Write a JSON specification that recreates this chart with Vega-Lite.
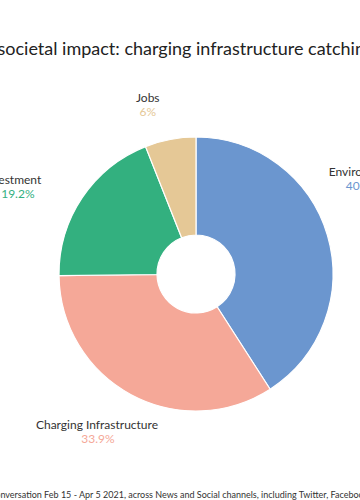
{
  "$schema": "https://vega.github.io/schema/vega-lite/v6.json",
  "autosize": "pad",
  "padding": {"left": -124, "top": 34, "right": 0, "bottom": 0},
  "background": "white",
  "title": {
    "text": "EV societal impact: charging infrastructure catching up",
    "anchor": "middle",
    "font": "Lato",
    "fontSize": 18,
    "fontWeight": "normal",
    "color": "#222222",
    "offset": -25,
    "dx": -11
  },
  "config": {"view": {"stroke": null}, "text": {"font": "Lato", "fontSize": 12}},
  "vconcat": [
    {
      "width": 640,
      "height": 380,
      "title": {
        "text": "Source: Conversation Feb 15 - Apr 5 2021, across News and Social channels, including Twitter, Facebook and Instagram",
        "orient": "bottom",
        "anchor": "middle",
        "font": "Lato",
        "fontSize": 9,
        "fontWeight": "normal",
        "color": "#333333",
        "offset": 20,
        "dx": -4
      },
      "data": {
        "values": [
          {"category": "Environment", "share": 0.409},
          {"category": "Charging Infrastructure", "share": 0.339},
          {"category": "Investment", "share": 0.192},
          {"category": "Jobs", "share": 0.06}
        ]
      },
      "encoding": {
        "theta": {"field": "share", "type": "quantitative", "stack": true},
        "order": {"field": "share", "sort": "descending"},
        "color": {
          "field": "category",
          "type": "nominal",
          "legend": null,
          "scale": {
            "domain": ["Environment", "Charging Infrastructure", "Investment", "Jobs"],
            "range": ["#6b96cf", "#f5a898", "#33b07f", "#e5c896"]
          }
        }
      },
      "layer": [
        {
          "mark": {"type": "arc", "outerRadius": 137, "innerRadius": 39, "stroke": "white", "strokeWidth": 1.2}
        },
        {
          "mark": {"type": "text", "radius": 188, "dx": -14, "dy": -49},
          "encoding": {
            "text": {"condition": {"test": "datum.category === 'Environment'", "field": "category"}, "value": ""},
            "color": {"value": "#333333"}
          }
        },
        {
          "mark": {"type": "text", "radius": 188, "dx": -14, "dy": -35},
          "encoding": {
            "text": {"condition": {"test": "datum.category === 'Environment'", "field": "share", "type": "quantitative", "format": ".1~%"}, "value": ""}
          }
        },
        {
          "mark": {"type": "text", "radius": 188, "dx": -28, "dy": 11},
          "encoding": {
            "text": {"condition": {"test": "datum.category === 'Investment'", "field": "category"}, "value": ""},
            "color": {"value": "#333333"}
          }
        },
        {
          "mark": {"type": "text", "radius": 188, "dx": -22, "dy": 25},
          "encoding": {
            "text": {"condition": {"test": "datum.category === 'Investment'", "field": "share", "type": "quantitative", "format": ".1~%"}, "value": ""}
          }
        },
        {
          "mark": {"type": "text", "radius": 188, "dx": -13, "dy": 9},
          "encoding": {
            "text": {"condition": {"test": "datum.category === 'Jobs'", "field": "category"}, "value": ""},
            "color": {"value": "#333333"}
          }
        },
        {
          "mark": {"type": "text", "radius": 188, "dx": -13, "dy": 23},
          "encoding": {
            "text": {"condition": {"test": "datum.category === 'Jobs'", "field": "share", "type": "quantitative", "format": ".1~%"}, "value": ""}
          }
        },
        {
          "mark": {"type": "text", "radius": 188, "dx": -10, "dy": -15},
          "encoding": {
            "text": {"condition": {"test": "datum.category === 'Charging Infrastructure'", "field": "category"}, "value": ""},
            "color": {"value": "#333333"}
          }
        },
        {
          "mark": {"type": "text", "radius": 188, "dx": -9, "dy": -1},
          "encoding": {
            "text": {"condition": {"test": "datum.category === 'Charging Infrastructure'", "field": "share", "type": "quantitative", "format": ".1~%"}, "value": ""}
          }
        }
      ]
    }
  ]
}
